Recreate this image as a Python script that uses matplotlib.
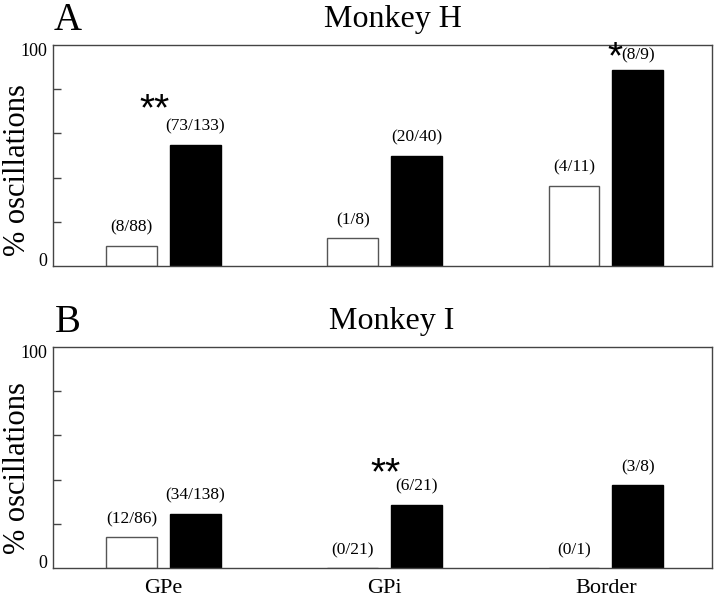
import matplotlib
matplotlib.use("Agg")
import matplotlib.pyplot as plt

regions = ["GPe", "GPi", "Border"]
h_white = [9.1, 12.5, 36.4]
h_black = [54.9, 50.0, 88.9]
h_white_lbl = ["(8/88)", "(1/8)", "(4/11)"]
h_black_lbl = ["(73/133)", "(20/40)", "(8/9)"]
i_white = [14.0, 0.0, 0.0]
i_black = [24.6, 28.6, 37.5]
i_white_lbl = ["(12/86)", "(0/21)", "(0/1)"]
i_black_lbl = ["(34/138)", "(6/21)", "(3/8)"]
ytick_vals = [0, 100]
ytick_lbls = ["0", "100"]

plt.rcParams['font.family'] = ['Liberation Serif', 'DejaVu Serif']

fig = plt.figure(figsize=(7.2, 6.0), dpi=100)
axA = fig.add_axes([53/720, 1-266/600, 659/720, 221/600])
axB = fig.add_axes([53/720, 1-568/600, 659/720, 221/600])

W = 0.23
OFF = 0.144
frame_col = '#444444'

def draw(ax, white, black, wl, bl, show_x, lbl_offsets_black=None):
    xs = list(range(len(regions)))
    xw = [x - OFF for x in xs]
    xb = [x + OFF for x in xs]
    ax.bar(xw, white, width=W, color='white', edgecolor='#555555', linewidth=1.0)
    ax.bar(xb, black, width=W, color='black', edgecolor='black', linewidth=1.0)
    for x, v, t in zip(xw, white, wl):
        ax.annotate(t, (x, v), xytext=(0, 13), textcoords='offset points',
                    ha='center', va='center', fontsize=12.5)
    for i, (x, v, t) in enumerate(zip(xb, black, bl)):
        off = 13 if lbl_offsets_black is None else lbl_offsets_black[i]
        ax.annotate(t, (x, v), xytext=(0, off), textcoords='offset points',
                    ha='center', va='center', fontsize=12.5)
    ax.set_xlim(-0.5, 2.48)
    ax.set_ylim(0, 100)
    ax.set_yticks(ytick_vals)
    ax.set_yticklabels([])
    for v, t, dy in zip(ytick_vals, ytick_lbls, [4, -6]):
        ax.annotate(t, xy=(0, v), xycoords=('axes fraction', 'data'),
                    xytext=(-6, dy), textcoords='offset pixels',
                    ha='right', va='center', fontsize=13)
    ax.set_yticks([20, 40, 60, 80], minor=True)
    ax.tick_params(axis='y', which='major', length=0)
    ax.tick_params(axis='y', which='minor', direction='in', length=6, width=1, color=frame_col)
    ax.set_xticks(xs)
    if show_x:
        ax.set_xticklabels(regions, fontsize=16)
    else:
        ax.set_xticklabels([])
    ax.tick_params(axis='x', length=0, pad=8)
    for s in ax.spines.values():
        s.set_color(frame_col)
        s.set_linewidth(1.0)

draw(axA, h_white, h_black, h_white_lbl, h_black_lbl, False, [13, 13, 10])
draw(axB, i_white, i_black, i_white_lbl, i_black_lbl, True)

fig.text(18/720, 1-170/600, "% oscillations", fontsize=22, rotation=90, ha='center', va='center')
fig.text(18/720, 1-468/600, "% oscillations", fontsize=22, rotation=90, ha='center', va='center')

star_kw = dict(family='Liberation Sans', fontsize=28, ha='center', va='baseline')
axA.text(-0.04, 66, "**", **star_kw)
axA.text(2.04, 89.5, "*", **star_kw)
axB.text(1.005, 38, "**", **star_kw)

fig.text(393/720, 1-20/600, "Monkey H", fontsize=23, ha='center', va='center')
fig.text(392/720, 1-321/600, "Monkey I", fontsize=23, ha='center', va='center')
fig.text(68/720, 1-20/600, "A", fontsize=28, ha='center', va='center')
fig.text(68/720, 1-322/600, "B", fontsize=28, ha='center', va='center')

fig.savefig("out.png", dpi=100)
